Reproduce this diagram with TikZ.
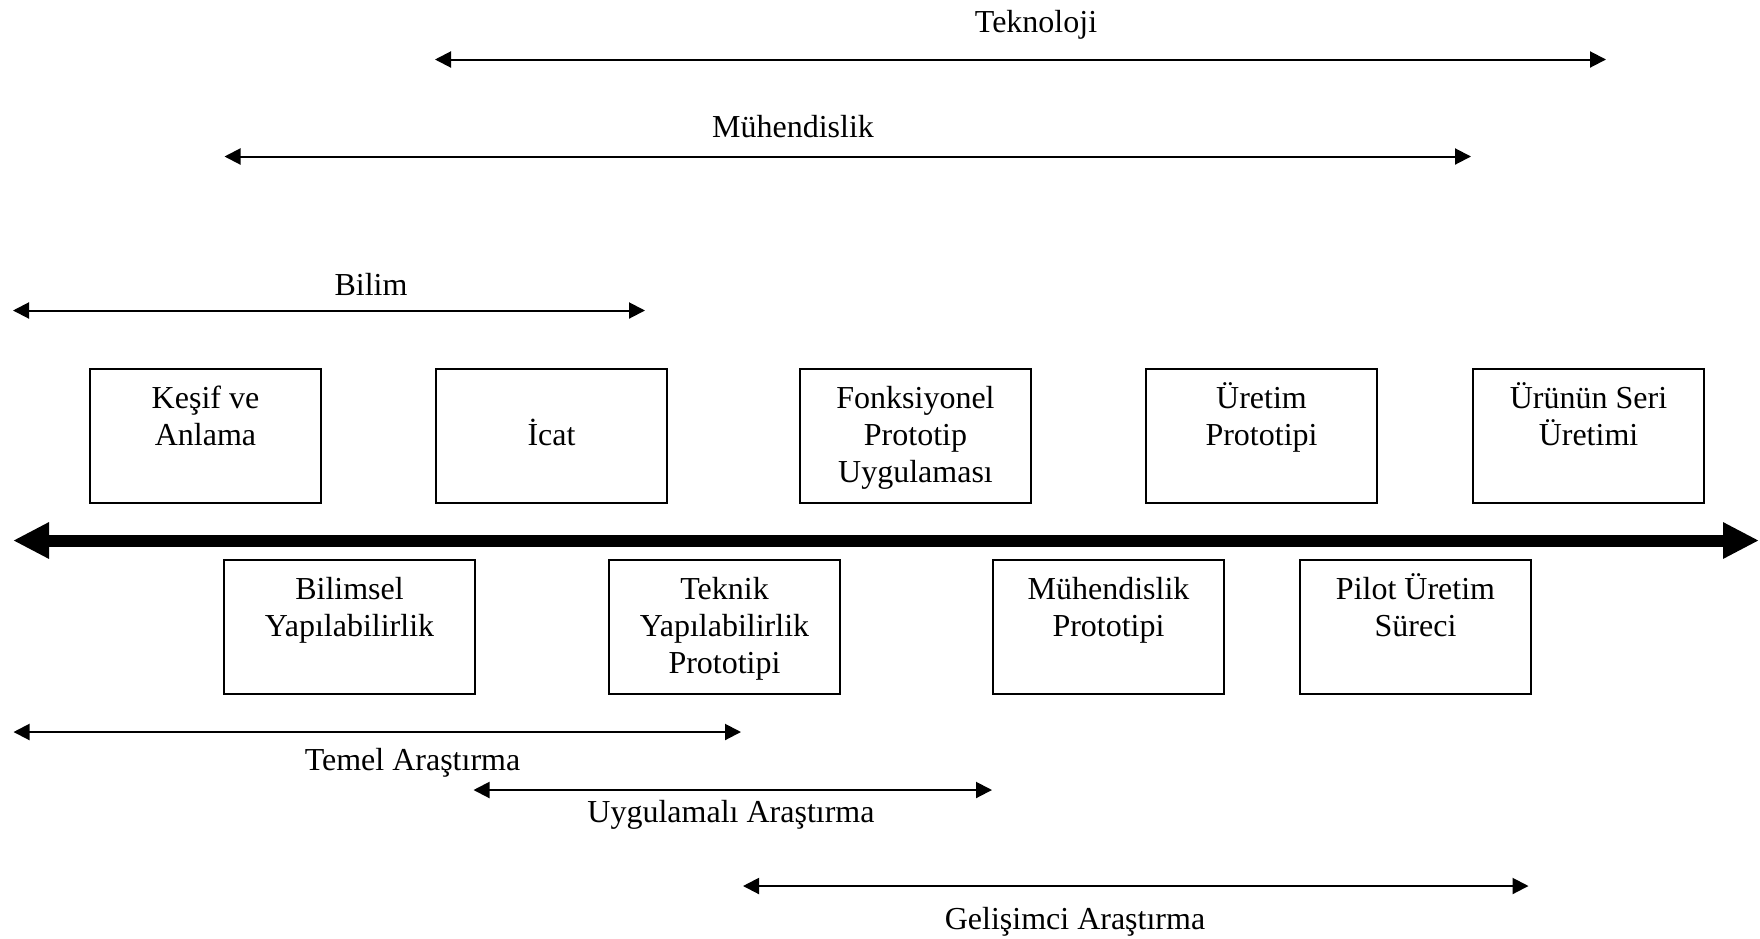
\documentclass[tikz,border=0pt]{standalone}
\usepackage{fontspec}
\setmainfont{Liberation Serif}
\usetikzlibrary{arrows.meta}
\begin{document}
\begin{tikzpicture}[x=0.5pt,y=-0.5pt,
  txt/.style={font=\fontsize{16pt}{18.6pt}\selectfont, inner sep=0pt},
  stagebox/.style={draw, line width=1pt, minimum width=115.5pt, minimum height=67pt,
    inner sep=0pt, anchor=north west},
  widebox/.style={stagebox, minimum width=125.5pt},
  % stage texts hang from the box top: the base anchor is the last line's baseline,
  % so the shift grows by one baselineskip per extra line
  stagetext/.style={txt, align=center, anchor=base},
  lines/.style={stagetext, yshift={-20pt-(#1-1)*18.6pt}},
  rangelabel/.style={txt, anchor=base},
  spanarrow/.style={line width=1pt, {Triangle[length=8pt,width=8pt]}-{Triangle[length=8pt,width=8pt]}},
  timeaxis/.style={line width=6pt, {Triangle[length=18pt,width=17pt]}-{Triangle[length=18pt,width=17pt]}}
]
\useasboundingbox (0,0) rectangle (1760,938);

% upper ranges
\coordinate (tekL) at (435,59.5);   \coordinate (tekR) at (1606,59.5);
\coordinate (muhL) at (224.5,156.5); \coordinate (muhR) at (1471,156.5);
\coordinate (bilL) at (13,310.5);   \coordinate (bilR) at (645,310.5);
\draw[spanarrow] (tekL) -- (tekR);
\draw[spanarrow] (muhL) -- (muhR);
\draw[spanarrow] (bilL) -- (bilR);
\node[rangelabel] (tekLbl) at (1036,32) {Teknoloji};
\node[rangelabel] (muhLbl) at (793,137) {Mühendislik};
\node[rangelabel] (bilLbl) at (371,295) {Bilim};

% stages above the axis
\node[stagebox] (kesif) at (89,368) {};
\node[stagebox] (icat) at (435,368) {};
\node[stagebox] (fonk) at (799,368) {};
\node[stagebox] (uretim) at (1145,368) {};
\node[stagebox] (seri) at (1472,368) {};
\node[lines=2] at (kesif.north) {Keşif ve\\Anlama};
\node[lines=2] at (icat.north) {İcat};
\node[lines=3] at (fonk.north) {Fonksiyonel\\Prototip\\Uygulaması};
\node[lines=2] at (uretim.north) {Üretim\\Prototipi};
\node[lines=2] at (seri.north) {Ürünün Seri\\Üretimi};

% time axis
\coordinate (axL) at (13,540.5); \coordinate (axR) at (1759,540.5);
\draw[timeaxis] (axL) -- (axR);

% stages below the axis
\node[widebox] (bilimsel) at (223,559) {};
\node[stagebox] (teknik) at (608,559) {};
\node[stagebox] (muhp) at (992,559) {};
\node[stagebox] (pilot) at (1299,559) {};
\node[lines=2] at (bilimsel.north) {Bilimsel\\Yapılabilirlik};
\node[lines=3] at (teknik.north) {Teknik\\Yapılabilirlik\\Prototipi};
\node[lines=2] at (muhp.north) {Mühendislik\\Prototipi};
\node[lines=2] at (pilot.north) {Pilot Üretim\\Süreci};

% lower ranges
\coordinate (temL) at (13.5,732);  \coordinate (temR) at (741,732);
\coordinate (uygL) at (473.5,790); \coordinate (uygR) at (992,790);
\coordinate (gelL) at (743,886);   \coordinate (gelR) at (1528.5,886);
\draw[spanarrow] (temL) -- (temR);
\draw[spanarrow] (uygL) -- (uygR);
\draw[spanarrow] (gelL) -- (gelR);
\node[rangelabel] (temLbl) at (412.5,770) {Temel Araştırma};
\node[rangelabel] (uygLbl) at (731,822) {Uygulamalı Araştırma};
\node[rangelabel] (gelLbl) at (1075,929) {Gelişimci Araştırma};
\end{tikzpicture}
\end{document}
